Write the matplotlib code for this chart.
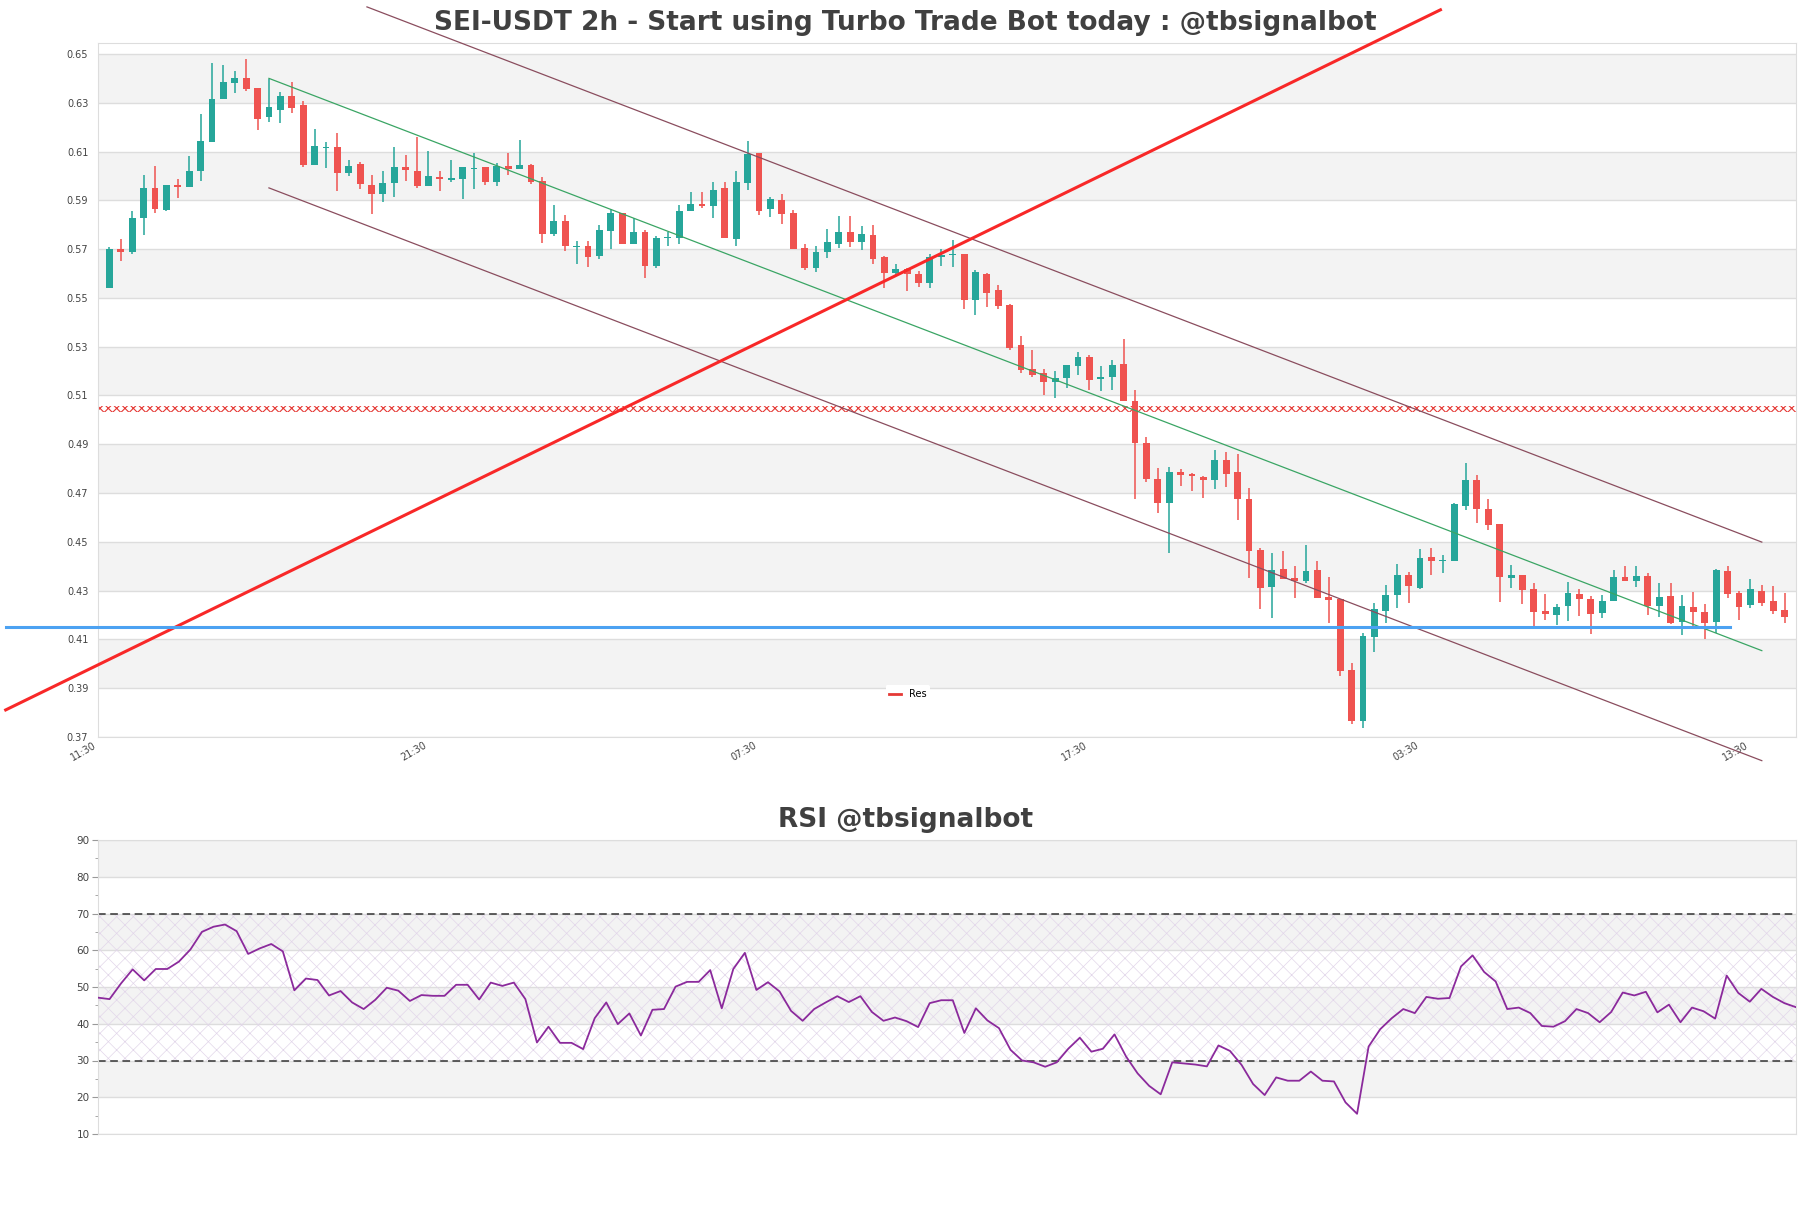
import matplotlib
matplotlib.use('Agg')
from matplotlib import pyplot as plt
from matplotlib.lines import Line2D
import numpy as np

title = 'SEI-USDT 2h - Start using Turbo Trade Bot today : @tbsignalbot'
rsi_title = 'RSI @tbsignalbot'

# 2h candles, first one at 13:30
opens = [0.554, 0.570, 0.5687, 0.5828, 0.595, 0.5862, 0.5961, 0.5955, 0.602, 0.6141,
         0.6317, 0.638, 0.640, 0.636, 0.624, 0.627, 0.6328, 0.6291, 0.6043, 0.6115,
         0.612, 0.6014, 0.605, 0.5964, 0.5924, 0.597, 0.6038, 0.6021, 0.5957, 0.5995,
         0.5985, 0.5987, 0.6028, 0.6036, 0.5975, 0.6039, 0.6029, 0.6044, 0.5979, 0.576,
         0.5816, 0.5709, 0.5713, 0.567, 0.5776, 0.5847, 0.5723, 0.577, 0.5629, 0.5745,
         0.5745, 0.5856, 0.5884, 0.5878, 0.595, 0.5742, 0.5972, 0.6095, 0.5865, 0.5901,
         0.585, 0.5705, 0.5623, 0.5689, 0.5719, 0.577, 0.5731, 0.5758, 0.5666, 0.5604,
         0.5619, 0.5599, 0.5563, 0.5666, 0.5676, 0.5681, 0.5492, 0.560, 0.5531, 0.5469,
         0.5306, 0.521, 0.5193, 0.5154, 0.5172, 0.5222, 0.5259, 0.5167, 0.5175, 0.5228,
         0.5077, 0.4907, 0.4759, 0.4659, 0.4788, 0.4777, 0.4767, 0.4754, 0.4834, 0.4785,
         0.4674, 0.4465, 0.4315, 0.4388, 0.435, 0.4338, 0.4383, 0.4273, 0.4265, 0.3975,
         0.3766, 0.411, 0.4216, 0.4281, 0.4366, 0.4309, 0.4438, 0.4423, 0.4422, 0.4645,
         0.4754, 0.4634, 0.4573, 0.435, 0.4364, 0.4307, 0.4218, 0.4199, 0.4236, 0.4288,
         0.4266, 0.4208, 0.4256, 0.4357, 0.4338, 0.4361, 0.4236, 0.4279, 0.4172, 0.4234,
         0.4214, 0.417, 0.4382, 0.429, 0.424, 0.4298, 0.4258, 0.4221]
highs = [0.571, 0.574, 0.5858, 0.6005, 0.6039, 0.5964, 0.5987, 0.6083, 0.6254, 0.6462,
         0.6455, 0.6429, 0.648, 0.636, 0.6398, 0.6346, 0.6385, 0.6308, 0.6193, 0.614,
         0.6177, 0.6066, 0.6058, 0.6005, 0.6021, 0.612, 0.6087, 0.616, 0.6103, 0.6021,
         0.6065, 0.6036, 0.6096, 0.6036, 0.6055, 0.6096, 0.6146, 0.6051, 0.5994, 0.5881,
         0.584, 0.5733, 0.5733, 0.5799, 0.5863, 0.5847, 0.5826, 0.5779, 0.5754, 0.5769,
         0.5881, 0.5935, 0.5935, 0.5976, 0.5976, 0.602, 0.6142, 0.6095, 0.5915, 0.5926,
         0.586, 0.5721, 0.5713, 0.5783, 0.5837, 0.5836, 0.5796, 0.5799, 0.5672, 0.564,
         0.5622, 0.5611, 0.568, 0.570, 0.5738, 0.5681, 0.5615, 0.5604, 0.5552, 0.5476,
         0.5343, 0.5288, 0.5209, 0.5202, 0.5227, 0.5277, 0.5268, 0.522, 0.5247, 0.533,
         0.5121, 0.4928, 0.4801, 0.4807, 0.4797, 0.4784, 0.4768, 0.4875, 0.4868, 0.4862,
         0.4722, 0.4475, 0.4453, 0.4463, 0.4401, 0.4486, 0.4422, 0.4356, 0.4265, 0.4002,
         0.4128, 0.4248, 0.4325, 0.4408, 0.4378, 0.4469, 0.4474, 0.4445, 0.4658, 0.4822,
         0.4775, 0.4676, 0.4573, 0.4406, 0.4364, 0.4331, 0.4288, 0.4247, 0.4335, 0.4307,
         0.4277, 0.4283, 0.4386, 0.440, 0.440, 0.4372, 0.4331, 0.4331, 0.4283, 0.4293,
         0.4247, 0.439, 0.4402, 0.4297, 0.4349, 0.4324, 0.4318, 0.429]
lows = [0.554, 0.565, 0.568, 0.5757, 0.5848, 0.5855, 0.5908, 0.5955, 0.5978, 0.6141,
        0.6317, 0.6342, 0.635, 0.619, 0.6222, 0.6218, 0.6256, 0.6038, 0.6043, 0.6033,
        0.594, 0.5998, 0.5946, 0.5843, 0.5892, 0.5912, 0.598, 0.595, 0.5957, 0.594,
        0.5976, 0.5905, 0.5946, 0.5961, 0.596, 0.6002, 0.6029, 0.5967, 0.5724, 0.5752,
        0.5693, 0.5638, 0.5626, 0.5659, 0.570, 0.5723, 0.5723, 0.5581, 0.5624, 0.5711,
        0.572, 0.5856, 0.587, 0.5829, 0.5746, 0.5711, 0.5943, 0.5841, 0.5833, 0.5802,
        0.5701, 0.5615, 0.5607, 0.5664, 0.5706, 0.5709, 0.5697, 0.5638, 0.5539, 0.5595,
        0.5528, 0.5546, 0.5539, 0.5631, 0.5627, 0.5456, 0.5431, 0.5461, 0.5456, 0.5285,
        0.5193, 0.5176, 0.5101, 0.509, 0.513, 0.5186, 0.5122, 0.5118, 0.5122, 0.5077,
        0.4674, 0.4745, 0.4617, 0.4453, 0.4729, 0.4709, 0.468, 0.4715, 0.4725, 0.459,
        0.4353, 0.4224, 0.4188, 0.4349, 0.4271, 0.4333, 0.4271, 0.4169, 0.395, 0.3752,
        0.3738, 0.4049, 0.4166, 0.423, 0.4251, 0.4306, 0.4364, 0.4371, 0.4422, 0.4631,
        0.4577, 0.4549, 0.4253, 0.4311, 0.4247, 0.4154, 0.4178, 0.4161, 0.4174, 0.4198,
        0.4124, 0.4188, 0.4256, 0.4338, 0.4315, 0.420, 0.4192, 0.4165, 0.4117, 0.4154,
        0.4103, 0.4127, 0.427, 0.4178, 0.4229, 0.4236, 0.4204, 0.4167]
closes = [0.570, 0.569, 0.5828, 0.595, 0.5863, 0.5961, 0.5955, 0.6021, 0.6144, 0.6315,
          0.6384, 0.640, 0.6357, 0.6235, 0.6282, 0.6328, 0.6279, 0.6044, 0.6124, 0.612,
          0.6014, 0.6042, 0.5965, 0.5924, 0.5972, 0.6038, 0.6023, 0.596, 0.5998, 0.5989,
          0.5991, 0.6036, 0.6034, 0.5975, 0.604, 0.6028, 0.6043, 0.5975, 0.576, 0.5816,
          0.5711, 0.5714, 0.5667, 0.5779, 0.5847, 0.5723, 0.5769, 0.5629, 0.5746, 0.575,
          0.5856, 0.5884, 0.5876, 0.5942, 0.5746, 0.5976, 0.609, 0.5858, 0.5907, 0.5845,
          0.5701, 0.5622, 0.5689, 0.5731, 0.577, 0.5731, 0.5762, 0.5661, 0.5604, 0.5619,
          0.5596, 0.5563, 0.5667, 0.5676, 0.5678, 0.5492, 0.5608, 0.5522, 0.5465, 0.5295,
          0.5206, 0.5186, 0.5154, 0.5172, 0.5223, 0.5259, 0.5163, 0.5176, 0.5225, 0.5077,
          0.4905, 0.4756, 0.4659, 0.4788, 0.4774, 0.477, 0.4754, 0.4834, 0.4778, 0.4674,
          0.4463, 0.4311, 0.4385, 0.4349, 0.434, 0.4379, 0.4271, 0.4262, 0.3971, 0.3766,
          0.4114, 0.4224, 0.4284, 0.4363, 0.4319, 0.4435, 0.4422, 0.4426, 0.4654, 0.4754,
          0.4634, 0.457, 0.4356, 0.4364, 0.4304, 0.4211, 0.4204, 0.4234, 0.429, 0.4266,
          0.4204, 0.4259, 0.4356, 0.4338, 0.4361, 0.4236, 0.4275, 0.4167, 0.4238, 0.4211,
          0.4167, 0.4386, 0.4286, 0.4233, 0.4307, 0.4249, 0.4215, 0.4191]

rsi = [47.1, 46.7, 51.0, 54.8, 51.8, 54.9, 54.9, 56.9, 60.2, 65.0,
       66.4, 67.0, 65.2, 59.0, 60.5, 61.7, 59.7, 49.1, 52.3, 51.9,
       47.7, 48.9, 45.8, 44.0, 46.5, 49.8, 49.0, 46.2, 47.8, 47.6,
       47.6, 50.6, 50.6, 46.6, 51.2, 50.3, 51.2, 46.7, 34.9, 39.2,
       34.8, 34.8, 33.1, 41.5, 45.8, 39.9, 42.8, 36.8, 43.8, 44.0,
       50.1, 51.4, 51.4, 54.6, 44.2, 54.9, 59.3, 49.2, 51.3, 48.8,
       43.5, 40.8, 44.0, 45.8, 47.5, 45.9, 47.5, 43.2, 40.8, 41.7,
       40.7, 39.1, 45.6, 46.4, 46.4, 37.5, 44.2, 40.9, 38.8, 32.9,
       30.0, 29.5, 28.3, 29.5, 33.2, 36.2, 32.4, 33.2, 37.1, 31.1,
       26.5, 23.1, 20.8, 29.5, 29.2, 28.9, 28.4, 34.1, 32.6, 28.8,
       23.6, 20.6, 25.4, 24.5, 24.5, 27.0, 24.5, 24.3, 18.6, 15.5,
       33.8, 38.5, 41.5, 44.0, 42.9, 47.3, 46.8, 47.0, 55.6, 58.6,
       54.1, 51.5, 44.0, 44.4, 42.9, 39.4, 39.2, 40.7, 44.0, 42.9,
       40.4, 43.2, 48.5, 47.7, 48.7, 43.1, 45.2, 40.4, 44.4, 43.4,
       41.4, 53.1, 48.4, 46.0, 49.5, 47.3, 45.6, 44.5]

tick_pos = [-1, 28, 57, 86, 115, 144]
tick_labels = ['11:30', '21:30', '07:30', '17:30', '03:30', '13:30']

# trend lines (x = candle index, y = price)
trend_x = [14, 145]
trend_y = [0.640, 0.4054]
upper_x = [22.6, 145]
upper_y = [0.6693, 0.4499]
lower_x = [14, 145]
lower_y = [0.5951, 0.3603]
rise_x = [-9.1, 116.8]
rise_y = [0.3811, 0.6681]
support_x = [-9.1, 142.2]
support_y = [0.415, 0.415]
res_low, res_high = 0.5031, 0.5057

up_color = '#26a69a'
down_color = '#ef5350'
band = '#f3f3f3'
grid = '#dddddd'
text_color = '#444444'

fig = plt.figure(figsize=(18.11, 12.08), dpi=100)
ax = fig.add_axes([98/1811, 1-737/1208, 1698/1811, 694/1208])
ax2 = fig.add_axes([98/1811, 1-1134/1208, 1698/1811, 294/1208])

o = np.array(opens)
h = np.array(highs)
l = np.array(lows)
c = np.array(closes)
x = np.arange(len(o))
colors = np.where(c >= o, up_color, down_color)

yt = np.round(np.arange(0.37, 0.651, 0.02), 2)
for lo in yt[1::2]:
    ax.axhspan(lo, lo + 0.02, color=band, zorder=0, lw=0)

ax.vlines(x, l, h, colors=colors, linewidth=1.1, zorder=3)
body = np.maximum(np.abs(c - o), 0.0004)
ax.bar(x, body, bottom=np.minimum(o, c), width=0.6, color=colors, zorder=4, linewidth=0)

plt.rcParams['hatch.linewidth'] = 0.8
ax.axhspan(res_low, res_high, facecolor='none', edgecolor='#e53935', hatch='xxxx', lw=0, zorder=2)

ax.plot(trend_x, trend_y, color='#3aa564', lw=0.9, zorder=5)
ax.plot(upper_x, upper_y, color='#8a4d5e', lw=0.9, zorder=5, clip_on=False)
ax.plot(lower_x, lower_y, color='#8a4d5e', lw=0.9, zorder=5, clip_on=False)
ax.plot(rise_x, rise_y, color='#f82828', lw=2.2, zorder=6, clip_on=False)
ax.plot(support_x, support_y, color='#4ca2f2', lw=2.2, zorder=6, clip_on=False)

ax.set_xlim(-1, 148)
ax.set_ylim(0.37, 0.6545)
ax.set_yticks(yt)
ax.set_yticklabels([f'{v:.2f}' for v in yt])
ax.set_xticks(tick_pos)
ax.set_xticklabels(tick_labels, rotation=30, ha='right')
ax.tick_params(axis='both', length=0, labelsize=7, labelcolor=text_color)
ax.tick_params(axis='y', pad=7)
ax.tick_params(axis='x', pad=2)
ax.yaxis.grid(True, color=grid, lw=1)
ax.set_axisbelow(True)
for s in ax.spines.values():
    s.set_color(grid)

leg = ax.legend([Line2D([0], [0], color='#e53935', lw=2)], ['Res'], loc='center',
                bbox_to_anchor=(0.477, 0.062), fontsize=7, handlelength=1.2,
                frameon=True, facecolor='white', edgecolor='none', framealpha=1)
leg.set_zorder(10)

# RSI panel
rx = np.arange(len(rsi))
for lo in [20, 40, 60, 80]:
    ax2.axhspan(lo, lo + 10, color=band, zorder=0, lw=0)
plt.rcParams['hatch.linewidth'] = 0.5
ax2.fill_between(rx, 30, 70, facecolor='none', edgecolor='#e2d6ea', hatch='xx', lw=0, zorder=1)
ax2.axhline(70, color='#333333', lw=1.1, ls=(0, (5, 3)), zorder=2)
ax2.axhline(30, color='#333333', lw=1.1, ls=(0, (5, 3)), zorder=2)
ax2.plot(rx, rsi, color='#8b2a9c', lw=1.3, zorder=3)
ax2.set_xlim(0, len(rsi) - 1)
ax2.set_ylim(10, 90)
ax2.set_yticks(range(10, 91, 10))
ax2.set_yticks(range(15, 90, 10), minor=True)
ax2.set_xticks([])
ax2.tick_params(axis='y', which='major', length=4, color='#999999', labelsize=7.5, labelcolor=text_color, pad=2)
ax2.tick_params(axis='y', which='minor', length=2, color='#999999')
ax2.yaxis.grid(True, color=grid, lw=1)
ax2.set_axisbelow(True)
for s in ax2.spines.values():
    s.set_color(grid)

fig.text(0.5, 1 - 23/1208, title, ha='center', va='center', fontsize=19, fontweight='bold', color='#404040')
fig.text(0.5, 1 - 820/1208, rsi_title, ha='center', va='center', fontsize=19, fontweight='bold', color='#404040')

fig.savefig('out.png', dpi=100)
